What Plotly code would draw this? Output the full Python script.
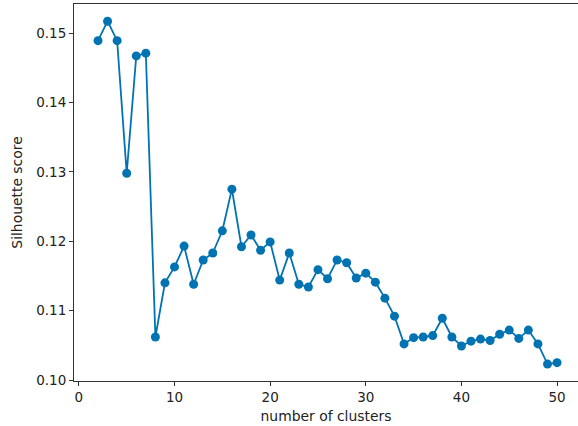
import plotly.graph_objects as go

n_clusters = list(range(2, 51))
silhouette = [
    0.1489, 0.1517, 0.1489, 0.1298, 0.1467, 0.1471, 0.1062, 0.1140, 0.1163, 0.1193,
    0.1138, 0.1173, 0.1183, 0.1215, 0.1275, 0.1192, 0.1209, 0.1187, 0.1199, 0.1144,
    0.1183, 0.1138, 0.1134, 0.1159, 0.1146, 0.1173, 0.1169, 0.1147, 0.1154, 0.1141,
    0.1118, 0.1092, 0.1052, 0.1061, 0.1062, 0.1064, 0.1089, 0.1062, 0.1049, 0.1056,
    0.1059, 0.1057, 0.1066, 0.1072, 0.1060, 0.1072, 0.1052, 0.1023, 0.1025,
]
x_ticks = [0, 10, 20, 30, 40, 50]
y_ticks = [0.10, 0.11, 0.12, 0.13, 0.14, 0.15]

color = "#0173b2"
fig = go.Figure(go.Scatter(
    x=n_clusters, y=silhouette, mode="lines+markers",
    line=dict(color=color, width=1.8),
    marker=dict(color=color, size=9),
))

axis_common = dict(
    showline=True, linecolor="#333333", linewidth=1,
    ticks="outside", ticklen=4, tickcolor="#333333", tickwidth=1,
    showgrid=False, zeroline=False,
    tickfont=dict(family="DejaVu Sans", size=13.5, color="#222222"),
    title_font=dict(family="DejaVu Sans", size=13.9, color="#222222"),
)
fig.update_xaxes(range=[-0.51, 52.19], tickvals=x_ticks, ticktext=[str(v) for v in x_ticks],
                 mirror=True, title_text="number of clusters", title_standoff=7, **axis_common)
fig.update_yaxes(range=[0.09986, 0.15418], tickvals=y_ticks, ticktext=[f"{v:.2f}" for v in y_ticks],
                 mirror=False, title_text="Silhouette score", title_standoff=10, **axis_common)
fig.update_layout(
    width=578, height=426, margin=dict(l=74, r=0, t=4, b=45),
    paper_bgcolor="white", plot_bgcolor="white", showlegend=False,
)
fig.write_html("out.html")
